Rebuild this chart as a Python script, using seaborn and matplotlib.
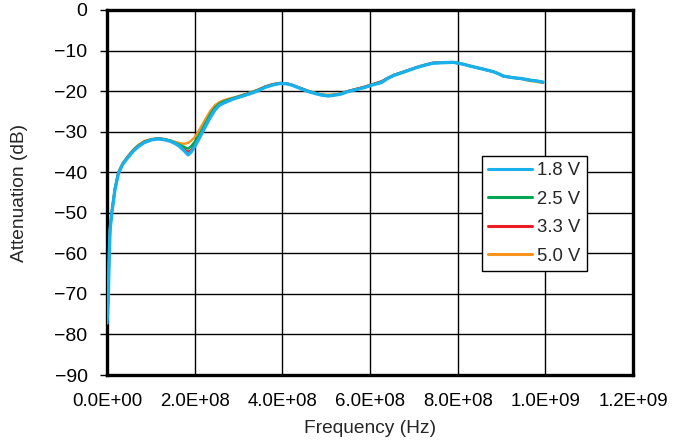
import matplotlib
matplotlib.use("Agg")
import matplotlib.pyplot as plt
import seaborn as sns
import pandas as pd
from matplotlib.lines import Line2D

freq_hz = [0, 3e6, 5e6, 7e6, 1.1e7, 1.8e7, 2.6e7, 3.6e7, 4.9e7, 6e7, 7.1e7, 8.5e7,
           1.02e8, 1.17e8, 1.32e8, 1.45e8, 1.55e8, 1.65e8, 1.75e8, 1.85e8, 1.92e8,
           2.0e8, 2.12e8, 2.24e8, 2.35e8, 2.46e8, 2.55e8, 2.65e8, 2.8e8, 2.92e8,
           3.1e8, 3.3e8, 3.45e8, 3.6e8, 3.78e8, 3.95e8, 4.1e8, 4.21e8, 4.4e8,
           4.59e8, 4.75e8, 4.9e8, 5.05e8, 5.2e8, 5.35e8, 5.5e8, 5.7e8, 5.88e8,
           6.05e8, 6.26e8, 6.4e8, 6.55e8, 6.8e8, 7.06e8, 7.25e8, 7.44e8, 7.65e8,
           7.9e8, 8.1e8, 8.28e8, 8.55e8, 8.81e8, 8.95e8, 9.04e8, 9.27e8, 9.45e8,
           9.65e8, 9.8e8, 9.95e8]

att_1v8 = [-77.2, -70.7, -60.4, -54.2, -50.0, -44.4, -40.3, -38.0, -36.2, -34.8, -33.7, -32.7,
           -32.0, -31.8, -32.0, -32.4, -32.9, -33.6, -34.6, -35.7, -35.0,
           -33.7, -31.3, -28.8, -26.6, -24.7, -23.6, -23.0, -22.3, -21.8,
           -21.2, -20.5, -19.9, -19.1, -18.5, -18.1, -18.2, -18.5, -19.3,
           -20.1, -20.6, -21.0, -21.2, -21.0, -20.7, -20.1, -19.6, -19.1,
           -18.5, -17.9, -16.9, -16.1, -15.2, -14.2, -13.6, -13.1, -13.0,
           -12.9, -13.3, -13.8, -14.5, -15.2, -15.8, -16.3, -16.7, -16.9,
           -17.3, -17.5, -17.8]

att_2v5 = [-76.5, -70.2, -60.0, -54.0, -49.8, -44.2, -40.1, -37.9, -36.0, -34.6, -33.5, -32.5,
           -31.9, -31.7, -31.9, -32.2, -32.7, -33.2, -33.7, -34.2, -33.6,
           -32.5, -30.4, -28.0, -25.8, -24.1, -23.2, -22.6, -22.0, -21.6,
           -21.0, -20.3, -19.7, -19.0, -18.4, -18.1, -18.2, -18.5, -19.2,
           -20.0, -20.5, -20.9, -21.1, -20.9, -20.6, -20.0, -19.5, -19.0,
           -18.4, -17.7, -16.8, -16.0, -15.1, -14.2, -13.6, -13.1, -13.0,
           -12.9, -13.3, -13.8, -14.5, -15.2, -15.8, -16.3, -16.7, -16.9,
           -17.3, -17.5, -17.8]

att_3v3 = [-76.8, -70.4, -60.1, -54.0, -49.8, -44.2, -40.1, -37.9, -36.0, -34.6, -33.5, -32.5,
           -31.9, -31.7, -31.9, -32.3, -32.8, -33.4, -34.2, -35.0, -34.5,
           -33.2, -30.9, -28.5, -26.3, -24.4, -23.4, -22.8, -22.1, -21.7,
           -21.0, -20.3, -19.7, -18.9, -18.3, -18.0, -18.1, -18.4, -19.2,
           -20.0, -20.5, -20.9, -21.1, -20.9, -20.6, -20.0, -19.4, -18.9,
           -18.3, -17.6, -16.8, -16.0, -15.1, -14.1, -13.5, -13.0, -12.9,
           -12.9, -13.3, -13.8, -14.5, -15.2, -15.8, -16.3, -16.7, -16.9,
           -17.3, -17.5, -17.8]

att_5v0 = [-76.0, -69.8, -59.6, -53.6, -49.5, -44.0, -39.9, -37.7, -35.8, -34.4, -33.3, -32.3,
           -31.8, -31.6, -31.8, -32.2, -32.5, -32.8, -33.0, -32.8, -32.2,
           -31.4, -29.3, -27.0, -25.0, -23.5, -22.8, -22.3, -21.8, -21.5,
           -20.9, -20.2, -19.6, -18.9, -18.3, -18.0, -18.1, -18.4, -19.2,
           -19.9, -20.4, -20.8, -20.9, -20.8, -20.5, -20.0, -19.5, -19.0,
           -18.4, -17.7, -16.8, -16.0, -15.1, -14.2, -13.6, -13.1, -13.0,
           -12.9, -13.3, -13.8, -14.5, -15.2, -15.8, -16.3, -16.7, -17.0,
           -17.5, -17.7, -18.0]

series_labels = ["1.8 V", "2.5 V", "3.3 V", "5.0 V"]
series_values = [att_1v8, att_2v5, att_3v3, att_5v0]
series_colors = ["#1AB0EC", "#00A651", "#ED1C24", "#F7941D"]

x_ticks = [0, 2e8, 4e8, 6e8, 8e8, 1e9, 1.2e9]
x_tick_labels = ["0.0E+00", "2.0E+08", "4.0E+08", "6.0E+08", "8.0E+08", "1.0E+09", "1.2E+09"]
y_ticks = [0, -10, -20, -30, -40, -50, -60, -70, -80, -90]

rows = []
for lab, vals in zip(series_labels, series_values):
    for f, v in zip(freq_hz, vals):
        rows.append({"Frequency": f, "Attenuation": v, "Supply": lab})
df = pd.DataFrame(rows)

sns.set_style("white")
plt.rcParams["font.family"] = ["Liberation Sans", "DejaVu Sans"]

fig = plt.figure(figsize=(6.76, 4.40), dpi=100)
ax = fig.add_axes([107 / 676, 1 - 375 / 440, 526 / 676, 365 / 440])

palette = dict(zip(series_labels, series_colors))
widths = {"1.8 V": 2.4, "2.5 V": 1.7, "3.3 V": 1.7, "5.0 V": 1.7}
draw_order = ["5.0 V", "3.3 V", "2.5 V", "1.8 V"]
for lab in draw_order:
    sns.lineplot(data=df[df["Supply"] == lab], x="Frequency", y="Attenuation",
                 color=palette[lab], linewidth=widths[lab], ax=ax, label=lab,
                 estimator=None, sort=False, zorder=3)

ax.set_xlim(0, 1.2e9)
ax.set_ylim(-90, 0)
ax.set_xticks(x_ticks)
ax.set_xticklabels(x_tick_labels)
ax.set_yticks(y_ticks)
ax.grid(True, color="black", linewidth=1.0, zorder=0)
ax.set_axisbelow(True)
for sp in ax.spines.values():
    sp.set_visible(True)
    sp.set_color("black")
    sp.set_linewidth(2.4)
ax.tick_params(axis="y", which="major", direction="out", length=5, width=1,
               labelsize=14, colors="black", pad=9, left=True)
ax.tick_params(axis="x", which="major", direction="out", length=0,
               labelsize=13.4, colors="black", pad=13)
ax.set_xlabel("Frequency (Hz)", fontsize=13.8, labelpad=7)
ax.set_ylabel("Attenuation (dB)", fontsize=13.8, labelpad=19)

leg_handles = [Line2D([0], [0], color=palette[l], linewidth=2.2) for l in series_labels]
leg = ax.legend(leg_handles, series_labels, loc="upper left",
                bbox_to_anchor=(0.713, 0.6), borderaxespad=0, fontsize=13.3,
                frameon=True, fancybox=False, framealpha=1, edgecolor="black",
                handlelength=2.38, handletextpad=0.27, labelspacing=0.62,
                borderpad=0.34)
leg.get_frame().set_linewidth(1.0)
leg.set_zorder(5)

fig.savefig("out.png", dpi=100)
